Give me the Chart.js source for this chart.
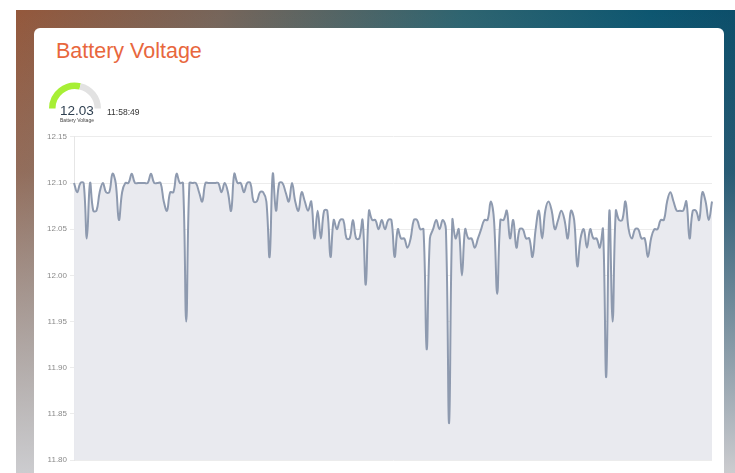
<!DOCTYPE html>
<html>
<head>
<meta charset="utf-8">
<script src="https://cdn.jsdelivr.net/npm/chart.js@4/dist/chart.umd.min.js"></script>
<style>
  html, body { margin: 0; padding: 0; background: #fff; overflow: hidden; }
  body { width: 735px; height: 473px; position: relative; font-family: "Liberation Sans", Arial, sans-serif; }
  .bg {
    position: absolute; left: 16px; top: 10px; right: 0; bottom: 0;
    background:
      linear-gradient(to bottom, rgba(204,204,207,0) 0%, rgba(204,204,207,0.15) 35%, rgba(204,204,207,1) 100%),
      linear-gradient(115deg, #94583c 0%, #76655a 22%, #2e6470 48%, #0d5670 68%, #0a3a5a 100%);
  }
  .card {
    position: absolute; left: 34px; top: 28px; width: 690px; height: 520px;
    background: #fff; border-radius: 6px;
  }
  .title {
    position: absolute; left: 56px; top: 41px; margin: 0;
    font-size: 21.5px; line-height: 1; font-weight: normal; color: #e8673d;
  }
  #gauge { position: absolute; left: 49px; top: 82px; }
  .gval {
    position: absolute; left: 47px; width: 60px; top: 104px; text-align: center;
    font-size: 13.5px; line-height: 1; color: #2e3f50;
  }
  .glbl {
    position: absolute; left: 47px; width: 60px; top: 118px; text-align: center;
    font-size: 5px; line-height: 1; color: #444;
  }
  .gtime {
    position: absolute; left: 107px; top: 108px;
    font-size: 8.5px; line-height: 1; color: #333;
  }
  #voltChart { position: absolute; left: 40px; top: 129px; }
</style>
</head>
<body>
<div class="bg"></div>
<div class="card"></div>
<h2 class="title">Battery Voltage</h2>
<canvas id="gauge" width="52" height="27"></canvas>
<div class="gval">12.03</div>
<div class="glbl">Battery Voltage</div>
<div class="gtime">11:58:49</div>
<canvas id="voltChart" width="676" height="339"></canvas>
<script>
// readings, one every few seconds
const voltages = [
  12.10, 12.09, 12.10, 12.10, 12.04, 12.10, 12.07, 12.07, 12.09, 12.10,
  12.09, 12.09, 12.11, 12.10, 12.06, 12.09, 12.10, 12.10, 12.11, 12.10,
  12.10, 12.10, 12.10, 12.10, 12.11, 12.10, 12.10, 12.10, 12.08, 12.07,
  12.09, 12.09, 12.11, 12.10, 12.10, 11.95, 12.10, 12.10, 12.10, 12.09,
  12.08, 12.10, 12.10, 12.10, 12.10, 12.10, 12.09, 12.10, 12.09, 12.07,
  12.11, 12.10, 12.10, 12.09, 12.10, 12.10, 12.08, 12.08, 12.09, 12.09,
  12.08, 12.02, 12.11, 12.07, 12.10, 12.10, 12.09, 12.08, 12.10, 12.08,
  12.07, 12.09, 12.08, 12.07, 12.08, 12.04, 12.07, 12.04, 12.07, 12.07,
  12.02, 12.06, 12.05, 12.06, 12.06, 12.04, 12.04, 12.06, 12.04, 12.04,
  12.06, 11.99, 12.07, 12.06, 12.06, 12.05, 12.06, 12.05, 12.06, 12.06,
  12.02, 12.05, 12.04, 12.04, 12.03, 12.04, 12.06, 12.06, 12.05, 12.05,
  11.92, 12.04, 12.05, 12.06, 12.05, 12.06, 12.05, 11.84, 12.06, 12.04,
  12.05, 12.00, 12.05, 12.04, 12.04, 12.03, 12.04, 12.05, 12.06, 12.06,
  12.08, 12.06, 11.98, 12.06, 12.06, 12.07, 12.04, 12.06, 12.03, 12.05,
  12.05, 12.04, 12.04, 12.02, 12.05, 12.07, 12.04, 12.07, 12.08, 12.07,
  12.05, 12.06, 12.07, 12.06, 12.04, 12.07, 12.06, 12.01, 12.04, 12.05,
  12.03, 12.05, 12.04, 12.04, 12.03, 12.05, 11.89, 12.07, 11.95, 12.07,
  12.06, 12.06, 12.08, 12.05, 12.04, 12.05, 12.05, 12.04, 12.04, 12.02,
  12.04, 12.05, 12.05, 12.06, 12.06, 12.08, 12.09, 12.08, 12.07, 12.07,
  12.07, 12.08, 12.04, 12.07, 12.07, 12.06, 12.09, 12.08, 12.06, 12.08
];
const yMin = 11.80;
const yMax = 12.15;
const yStep = 0.05;

const currentVoltage = 12.03;
const gaugeMin = 11.0;
const gaugeMax = 12.8;

Chart.defaults.font.family = "'Liberation Sans', Arial, sans-serif";
Chart.defaults.animation = false;

//gauge: half doughnut, filled part is the current reading
new Chart(document.getElementById("gauge"), {
  type: "doughnut",
  data: {
    datasets: [{
      data: [currentVoltage - gaugeMin, gaugeMax - currentVoltage],
      backgroundColor: ["#a7ef35", "#e2e2e2"],
      borderWidth: 0,
    }],
  },
  options: {
    responsive: false,
    devicePixelRatio: 1,
    rotation: -90,
    circumference: 180,
    cutout: "75%",
    events: [],
    plugins: { legend: { display: false }, tooltip: { enabled: false } },
  },
});

//main line chart
const config = {
  type: "line",
  data: {
    labels: voltages.map(() => ""),
    datasets: [{
      label: "Battery Voltage",
      data: voltages,
      borderColor: "#8e9aaf",
      backgroundColor: "#e9eaef",
      borderWidth: 2,
      tension: 0.4,
      pointRadius: 0,
      fill: "start",
    }],
  },
  options: {
    responsive: false,
    devicePixelRatio: 1,
    events: [],
    layout: { padding: { left: 4, right: 4 } },
    plugins: { legend: { display: false }, tooltip: { enabled: false } },
    scales: {
      x: { display: false },
      y: {
        min: yMin,
        max: yMax,
        ticks: {
          stepSize: yStep,
          color: "#8a8a8a",
          font: { size: 8 },
          padding: 3,
          callback: (v) => v.toFixed(2),
        },
        grid: { color: "#ececec", tickLength: 4 },
        border: { color: "#e6e6e6" },
      },
    },
  },
};

const myChart = new Chart(document.getElementById("voltChart"), config);
</script>
</body>
</html>
